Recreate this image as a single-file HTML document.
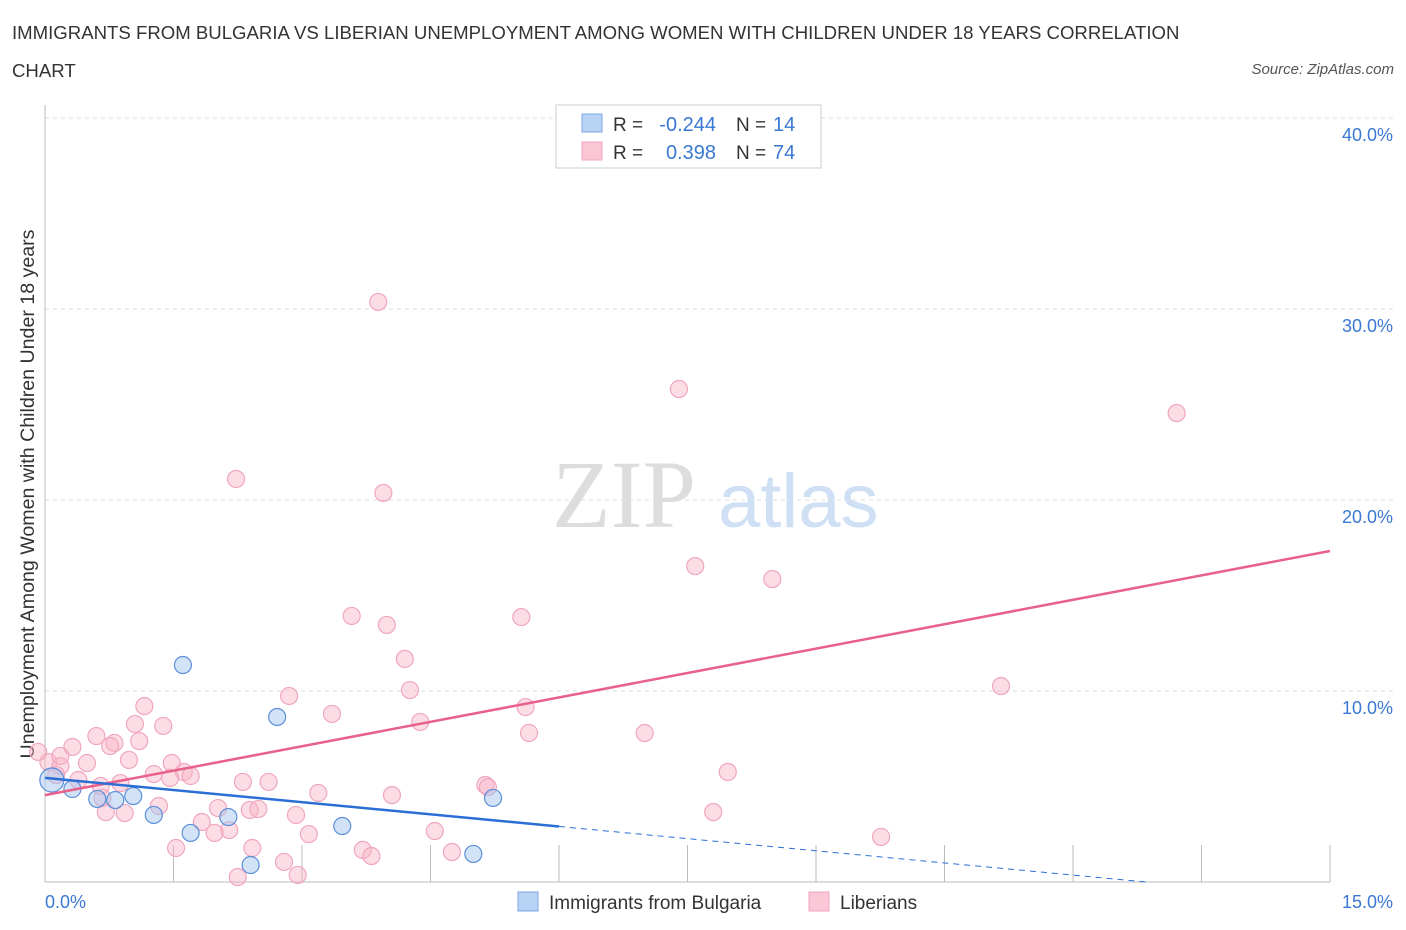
<!DOCTYPE html>
<html><head><meta charset="utf-8"><style>
body{margin:0;background:#fff;font-family:"Liberation Sans",sans-serif}
#wrap{position:relative;width:1406px;height:930px;overflow:hidden}
.t{position:absolute;white-space:nowrap}
</style></head><body>
<div id="wrap">
<div class="t" style="left:12px;top:14px;font-size:18.6px;color:#333;line-height:38px">IMMIGRANTS FROM BULGARIA VS LIBERIAN UNEMPLOYMENT AMONG WOMEN WITH CHILDREN UNDER 18 YEARS CORRELATION<br>CHART</div>
<div class="t" style="right:12px;top:61px;font-size:15px;color:#555;font-style:italic">Source: ZipAtlas.com</div>
<svg id="svg" width="1406" height="930" style="position:absolute;left:0;top:0"></svg>
</div>
<script>
const yTicks=[10,20,30,40];
const xTickLabels=["0.0%","15.0%"];
const bulgariaX=[0.08,0.32,0.61,0.82,1.03,1.27,1.61,1.70,2.14,2.40,2.71,3.47,5.00,5.23];
const bulgariaY=[5.34,4.87,4.35,4.29,4.50,3.51,11.36,2.57,3.40,0.89,8.64,2.93,1.47,4.40];
const liberiaPx=[[378,302],[679,389],[1177,413],[236,479],[383,493],[695,566],[772,579],[352,616],[521,617],[387,625],[405,659],[1001,686],[410,690],[289,696],[144,706],[332,714],[526,707],[135,724],[163,726],[420,722],[96,736],[114,743],[529,733],[645,733],[72,747],[110,746],[139,741],[87,763],[129,760],[172,763],[48,762],[60,766],[154,774],[184,772],[191,776],[728,772],[170,778],[120,783],[78,780],[243,782],[269,782],[485,785],[488,787],[56,775],[101,786],[102,798],[159,806],[218,808],[250,810],[258,809],[296,815],[318,793],[392,795],[713,812],[106,812],[125,813],[202,822],[229,830],[215,833],[309,834],[435,831],[881,837],[176,848],[252,848],[363,850],[371,856],[452,852],[284,862],[298,875],[238,877],[60,756],[38,752]];
const liberiaX=liberiaPx.map(p=>+((p[0]-45)/85.67).toFixed(2));
const liberiaY=liberiaPx.map(p=>+((882-p[1])/19.1).toFixed(2));
const pinkTrend=[4.55,17.33];
const blueTrend=[5.45,-0.424];
const blueSolidEnd=6.0;
const X0=45,X1=1330,Y0=882,PPY=19.1;
const sx=v=>X0+v*(X1-X0)/15, sy=v=>Y0-v*PPY;
const svg=document.getElementById('svg');const NS='http://www.w3.org/2000/svg';
function mk(tag,a,parent){const e=document.createElementNS(NS,tag);for(const k in a)e.setAttribute(k,a[k]);(parent||svg).appendChild(e);return e;}
yTicks.forEach(v=>{
 const l=mk('line',{x1:X0,x2:1394,y1:sy(v),y2:sy(v),stroke:'#ddd','stroke-dasharray':'4,4'});
 
 
 const t=mk('text',{x:1393,y:sy(v)+23,'text-anchor':'end','font-size':18,fill:'#3a78d4'});
 t.textContent=v.toFixed(1)+'%';
 
 
});
mk('line',{x1:X0,x2:X0,y1:105,y2:Y0,stroke:'#bbb'});
mk('line',{x1:X0,x2:X1,y1:Y0,y2:Y0,stroke:'#bbb'});
for(let k=1;k<=10;k++){const x=X0+k*128.5;const tk=mk('line',{x1:x,x2:x,y1:845,y2:Y0,stroke:'#bbb'});
 
 }
const xl=mk('text',{x:45,y:908,'font-size':18,fill:'#3a78d4'});xl.textContent=xTickLabels[0];


const xr=mk('text',{x:1393,y:908,'font-size':18,fill:'#3a78d4','text-anchor':'end'});xr.textContent=xTickLabels[1];


const wm=mk('text',{x:552,y:527,'font-size':96,fill:'#ddd','font-family':'Liberation Serif'});wm.textContent='ZIP';


const wm2=mk('text',{x:718,y:527,'font-size':76,fill:'#cfe0f4'});wm2.textContent='atlas';


const yt=mk('text',{x:0,y:0,'font-size':19.6,fill:'#333','text-anchor':'middle',transform:'translate(34,494) rotate(-90)'});yt.textContent='Unemployment Among Women with Children Under 18 years';


liberiaX.forEach((x,i)=>{const c=mk('circle',{cx:sx(x),cy:sy(liberiaY[i]),r:8.5,fill:'rgba(248,180,200,0.45)',stroke:'#f0a6bd','stroke-width':1.2});
 
 });
bulgariaX.forEach((x,i)=>{const c=mk('circle',{cx:sx(x),cy:sy(bulgariaY[i]),r:i===0?12:8.5,fill:'rgba(165,198,240,0.5)',stroke:'#5b8fd8','stroke-width':1.2});
 
 });
const pl=mk('line',{x1:sx(0),y1:sy(pinkTrend[0]),x2:sx(15),y2:sy(pinkTrend[1]),stroke:'#e8608c','stroke-width':2.5});


const bz=-blueTrend[0]/blueTrend[1];
const bl=mk('line',{x1:sx(0),y1:sy(blueTrend[0]),x2:sx(blueSolidEnd),y2:sy(blueTrend[0]+blueTrend[1]*blueSolidEnd),stroke:'#2b6fd6','stroke-width':2.5});


const bd=mk('line',{x1:sx(blueSolidEnd),y1:sy(blueTrend[0]+blueTrend[1]*blueSolidEnd),x2:sx(bz),y2:sy(0),stroke:'#2b6fd6','stroke-width':1,'stroke-dasharray':'6,5'});


const g=mk('g',{});


mk('rect',{x:556,y:105,width:265,height:63,fill:'#fff',stroke:'#ccc'},g);
mk('rect',{x:582,y:114,width:20,height:18,fill:'#b9d3f5',stroke:'#7aa4e0'},g);
mk('rect',{x:582,y:142,width:20,height:18,fill:'#fbc6d6',stroke:'#f0a6bd'},g);
[[131,'-0.244','14'],[159,'0.398','74']].forEach(r=>{
 const a=mk('text',{x:613,y:r[0],'font-size':19,fill:'#333'},g);a.textContent='R =';
 const b=mk('text',{x:716,y:r[0],'font-size':20,fill:'#3a78d4','text-anchor':'end'},g);b.textContent=r[1];
 const c=mk('text',{x:736,y:r[0],'font-size':19,fill:'#333'},g);c.textContent='N =';
 const d=mk('text',{x:773,y:r[0],'font-size':20,fill:'#3a78d4'},g);d.textContent=r[2];
});
const b1=mk('rect',{x:518,y:892,width:20,height:19,fill:'#b9d3f5',stroke:'#7aa4e0'});


const l1=mk('text',{x:549,y:909,'font-size':19,fill:'#333'});l1.textContent='Immigrants from Bulgaria';


const b2=mk('rect',{x:809,y:892,width:20,height:19,fill:'#fbc6d6',stroke:'#f0a6bd'});


const l2=mk('text',{x:840,y:909,'font-size':19,fill:'#333'});l2.textContent='Liberians';


</script>
</body></html>
